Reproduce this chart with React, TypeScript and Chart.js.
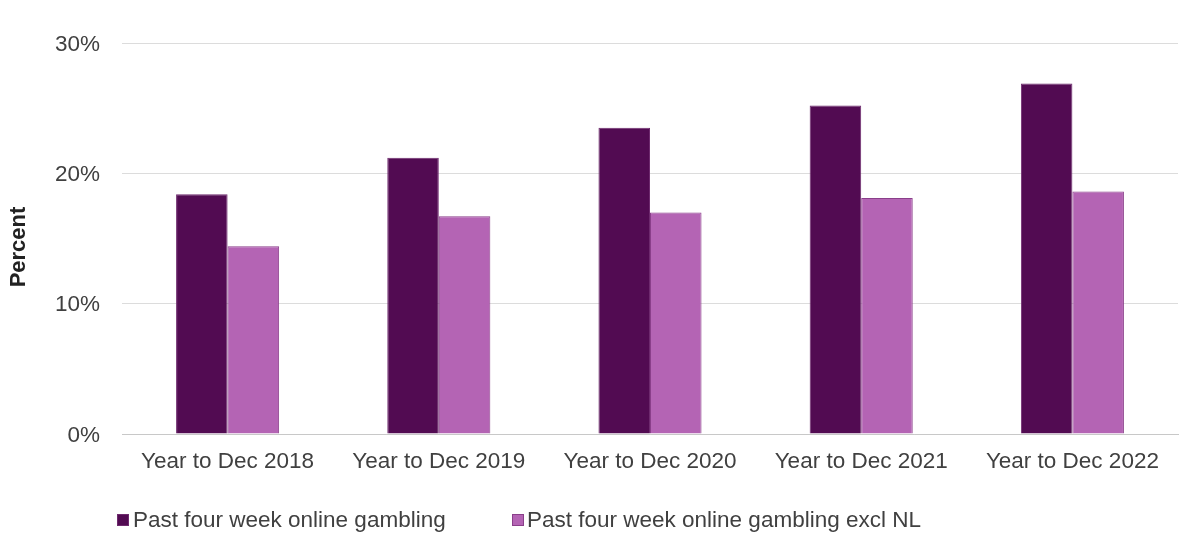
import React, { useEffect, useRef } from "react";
import { Chart, registerables } from "chart.js";

Chart.register(...registerables);

const categories = [
  "Year to Dec 2018",
  "Year to Dec 2019",
  "Year to Dec 2020",
  "Year to Dec 2021",
  "Year to Dec 2022",
];
const seriesNames = [
  "Past four week online gambling",
  "Past four week online gambling excl NL",
];
const onlineGambling = [18.4, 21.2, 23.5, 25.2, 26.9];
const onlineGamblingExclNL = [14.4, 16.7, 17.0, 18.1, 18.6];
const yTicks = [0, 10, 20, 30];
const yTitle = "Percent";

const FONT = "'Liberation Sans', Arial, sans-serif";
const TEXT = "#404040";

const legendPlugin = {
  id: "customLegend",
  afterDraw(chart: any) {
    const ctx = chart.ctx;
    const boxX = [117, 512];
    const textX = [133, 527];
    const y = 520;
    ctx.save();
    ctx.font = `22.5px ${FONT}`;
    ctx.textBaseline = "middle";
    ctx.textAlign = "left";
    chart.data.datasets.forEach((ds: any, i: number) => {
      ctx.fillStyle = ds.backgroundColor;
      ctx.fillRect(boxX[i], y - 6, 12, 12);
      ctx.strokeStyle = ds.borderColor;
      ctx.lineWidth = 1;
      ctx.strokeRect(boxX[i] + 0.5, y - 5.5, 11, 11);
      ctx.fillStyle = TEXT;
      ctx.fillText(ds.label, textX[i], y + 1);
    });
    // y-axis title
    ctx.translate(19, 247);
    ctx.rotate(-Math.PI / 2);
    ctx.font = `bold 22px ${FONT}`;
    ctx.textAlign = "center";
    ctx.fillStyle = "#222";
    ctx.fillText(yTitle, 0, 0);
    ctx.restore();
  },
};

export default function App() {
  const ref = useRef<HTMLCanvasElement>(null);

  useEffect(() => {
    document.body.style.margin = "0";
    const chart = new Chart(ref.current as HTMLCanvasElement, {
      type: "bar",
      data: {
        labels: categories,
        datasets: [
          {
            label: seriesNames[0],
            data: onlineGambling,
            backgroundColor: "#520b52",
            borderColor: "#6e2a6e",
            borderWidth: 1,
            barPercentage: 1,
            categoryPercentage: 0.488,
          },
          {
            label: seriesNames[1],
            data: onlineGamblingExclNL,
            backgroundColor: "#b464b4",
            borderColor: "#8a3f8a",
            borderWidth: 1,
            barPercentage: 1,
            categoryPercentage: 0.488,
          },
        ],
      },
      plugins: [legendPlugin],
      options: {
        animation: false,
        responsive: false,
        maintainAspectRatio: false,
        layout: { padding: { top: 43, right: 3, bottom: 59, left: 0 } },
        plugins: {
          legend: { display: false },
          tooltip: { enabled: false },
        },
        scales: {
          x: {
            grid: { display: false, drawTicks: false },
            border: { display: true, color: "#c8c8c8", width: 1 },
            ticks: {
              color: TEXT,
              font: { family: FONT, size: 22.5 },
              padding: 14,
              maxRotation: 0,
              autoSkip: false,
            },
            afterFit: (s: any) => {
              s.height = 40;
            },
          },
          y: {
            min: 0,
            max: 30,
            afterBuildTicks: (s: any) => {
              s.ticks = yTicks.map((v) => ({ value: v }));
            },
            grid: { color: "#dcdcdc", drawTicks: false, lineWidth: 1 },
            border: { display: false },
            ticks: {
              color: TEXT,
              font: { family: FONT, size: 22.5 },
              padding: 22,
              labelOffset: 1.5,
              callback: (v: any) => `${v}%`,
            },
            title: { display: false },
            afterFit: (s: any) => {
              s.width = 122;
            },
          },
        },
      },
    });
    return () => chart.destroy();
  }, []);

  return (
    <div style={{ position: "fixed", left: 0, top: 0, width: 1181, height: 533, background: "#fff" }}>
      <canvas ref={ref} width={1181} height={533} style={{ width: 1181, height: 533 }} />
    </div>
  );
}
